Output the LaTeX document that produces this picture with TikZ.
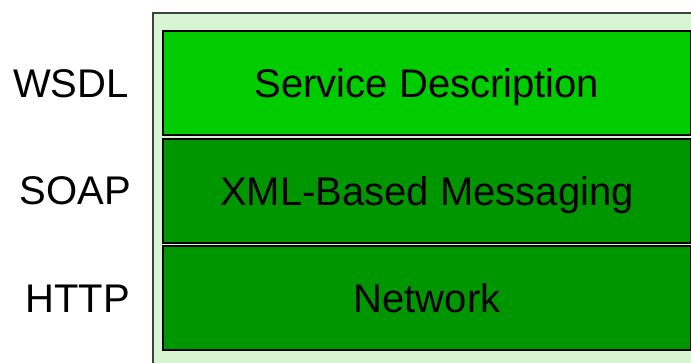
\documentclass[tikz,border=0pt]{standalone}
\usepackage{fontspec}
\setmainfont{Liberation Sans}
\usetikzlibrary{positioning}
\definecolor{bglight}{HTML}{D8F5D2}
\definecolor{topgreen}{HTML}{00CC00}
\definecolor{darkgreen}{HTML}{009600}
\tikzset{
  layerbox/.style={draw=black, line width=2pt, minimum width=528pt, minimum height=104pt,
    inner sep=0pt, text height=29pt, text depth=0pt,
    font=\fontsize{40}{48}\selectfont, anchor=north west},
  protolabel/.style={anchor=base east, inner sep=0pt, font=\fontsize{40}{48}\selectfont}
}
\begin{document}
\begin{tikzpicture}[x=1pt,y=1pt]
\useasboundingbox (0,0) rectangle (691,-362);
\clip (0,0) rectangle (691,-362);
\node[draw=black!75, line width=1.5pt, fill=bglight, anchor=north west,
      minimum width=560pt, minimum height=370pt, inner sep=0pt] (frame) at (152,-12) {};
\node[layerbox, fill=topgreen] (svc) at (162,-30) {Service Description};
\node[layerbox, fill=darkgreen] (xml) at (162,-138) {XML-Based Messaging};
\node[layerbox, fill=darkgreen] (net) at (162,-245) {Network};
\node[protolabel] (wsdl) at (129,-97) {WSDL};
\node[protolabel] (soap) at (131,-204) {SOAP};
\node[protolabel] (http) at (130,-312) {HTTP};
\end{tikzpicture}
\end{document}
